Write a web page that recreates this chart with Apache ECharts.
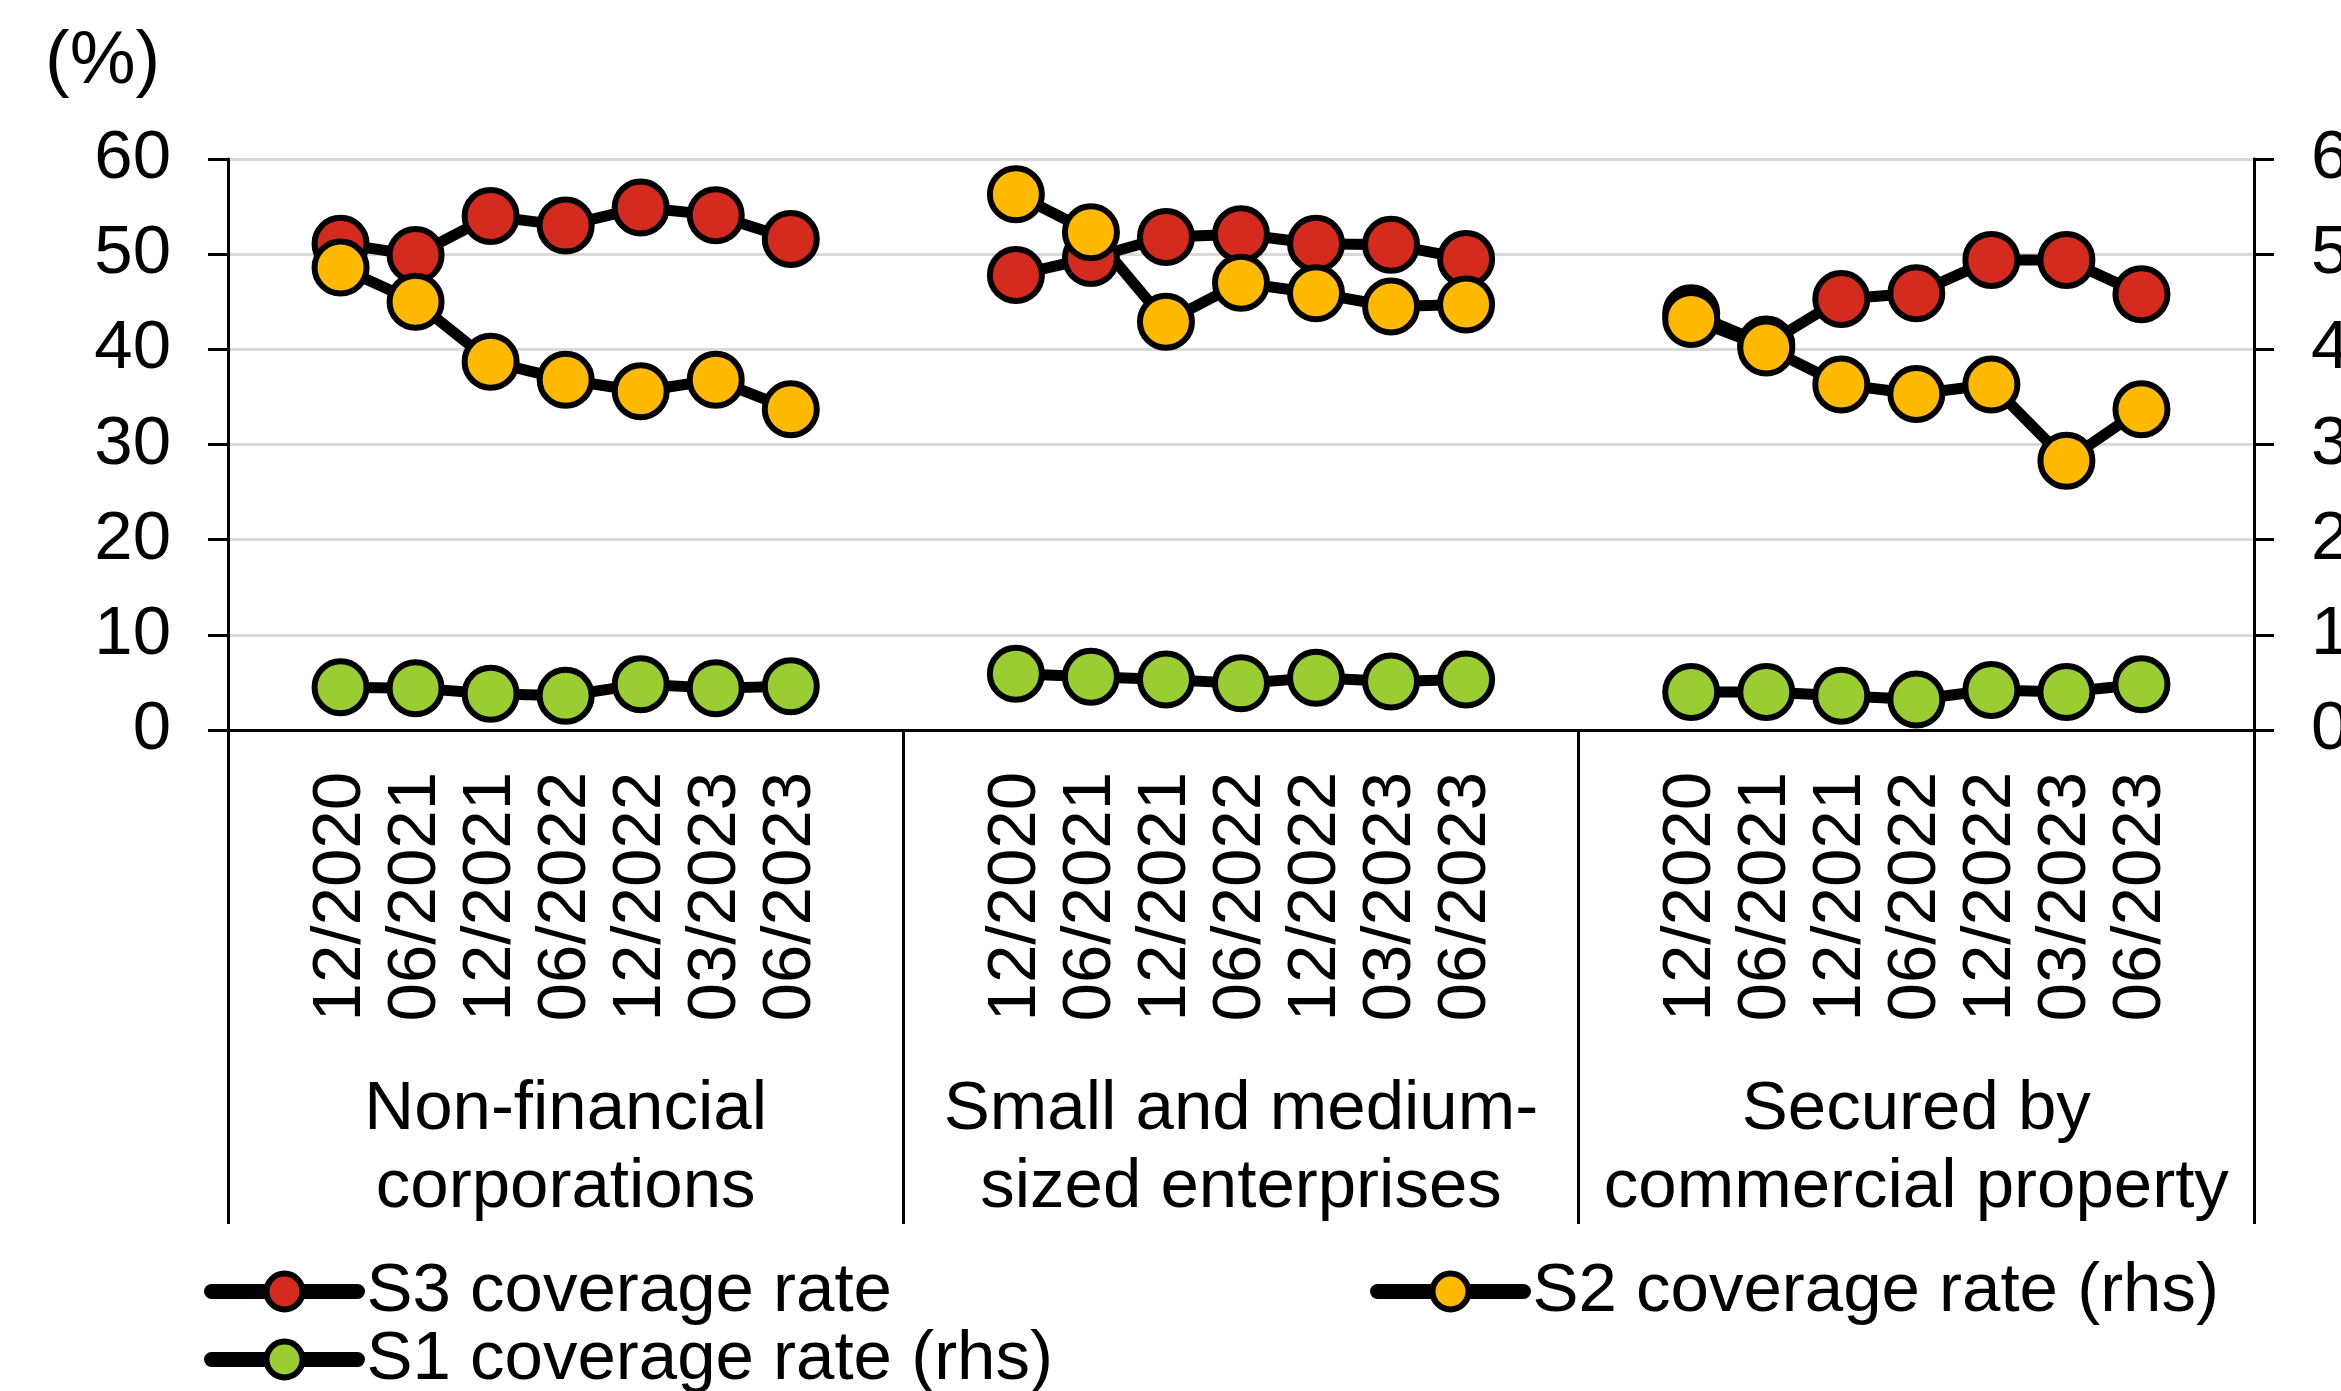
<!DOCTYPE html>
<html>
<head>
<meta charset="utf-8">
<title>Coverage rates by segment</title>
<script src="https://cdn.jsdelivr.net/npm/echarts@6/dist/echarts.min.js"></script>
<style>
  html, body { margin: 0; padding: 0; background: #fff; }
  #chart { width: 2341px; height: 1391px; }
</style>
</head>
<body>
<div id="chart"></div>
<script>
// Reporting dates shown inside each segment
const dates = ['12/2020', '06/2021', '12/2021', '06/2022', '12/2022', '03/2023', '06/2023'];

// Segment names (one block of dates per segment)
const segments = ['Non-financial\ncorporations', 'Small and medium-\nsized enterprises', 'Secured by\ncommercial property'];

// Y-axis tick values (both sides, %)
const yTicks = [0, 10, 20, 30, 40, 50, 60];

// S3 coverage rate (%), left axis
const s3Nfc = [51.1, 49.9, 54.0, 53.0, 54.9, 54.1, 51.6];
const s3Sme = [47.8, 49.6, 51.8, 52.1, 51.1, 51.0, 49.5];
const s3Cre = [43.8, 40.5, 45.3, 45.9, 49.4, 49.4, 45.8];

// S2 coverage rate (%), right axis
const s2Nfc = [48.6, 45.0, 38.7, 36.8, 35.6, 36.8, 33.7];
const s2Sme = [56.3, 52.3, 42.9, 47.0, 45.9, 44.5, 44.7];
const s2Cre = [43.2, 40.2, 36.3, 35.3, 36.3, 28.3, 33.7];

// S1 coverage rate (%), right axis
const s1Nfc = [4.5, 4.4, 3.8, 3.6, 4.8, 4.4, 4.6];
const s1Sme = [5.9, 5.6, 5.3, 4.9, 5.5, 5.1, 5.3];
const s1Cre = [4.0, 4.0, 3.6, 3.2, 4.2, 4.0, 4.8];

const FONT = 'Liberation Sans, Arial, sans-serif';
const RED = '#D52B1E';
const YELLOW = '#FFBA00';
const GREEN = '#9ACD32';

// Each segment gets an empty slot before and after its dates
function padBlock(arr, filler) { return [filler].concat(arr, [filler]); }
const categories = [].concat(padBlock(dates, ''), padBlock(dates, ''), padBlock(dates, ''));
function joinSegments(a, b, c) { return [].concat(padBlock(a, null), padBlock(b, null), padBlock(c, null)); }

const s3Data = joinSegments(s3Nfc, s3Sme, s3Cre);
const s2Data = joinSegments(s2Nfc, s2Sme, s2Cre);
const s1Data = joinSegments(s1Nfc, s1Sme, s1Cre);

function lineSeries(name, data, yIdx, fill) {
  return {
    name: name,
    type: 'line',
    xAxisIndex: 0,
    yAxisIndex: yIdx,
    data: data,
    connectNulls: false,
    symbol: 'circle',
    symbolSize: 52,
    showAllSymbol: true,
    lineStyle: { color: '#000', width: 11, join: 'round' },
    itemStyle: { color: fill, borderColor: '#000', borderWidth: 6 },
    emphasis: { disabled: true }
  };
}

function valueAxis(position) {
  return {
    type: 'value',
    position: position,
    min: yTicks[0],
    max: yTicks[yTicks.length - 1],
    interval: yTicks[1] - yTicks[0],
    axisLine: { show: true, lineStyle: { color: '#000', width: 3 } },
    axisTick: { show: true, inside: false, length: 20, lineStyle: { color: '#000', width: 3 } },
    axisLabel: { fontSize: 69, fontFamily: FONT, color: '#000', margin: 57 },
    splitLine: position === 'left'
      ? { show: true, lineStyle: { color: '#D9D9D9', width: 3 } }
      : { show: false }
  };
}

function legendAt(name, left, top) {
  return {
    data: [name],
    left: left,
    top: top,
    padding: 0,
    itemGap: 0,
    itemWidth: 146,
    itemHeight: 45,
    selectedMode: false,
    textStyle: { fontSize: 69, fontFamily: FONT, color: '#000', padding: [0, 0, 0, 4] },
    lineStyle: { color: '#000', width: 15, cap: 'round' },
    itemStyle: { borderColor: '#000', borderWidth: 6 }
  };
}

const chart = echarts.init(document.getElementById('chart'), null, { renderer: 'canvas' });

chart.setOption({
  animation: false,
  backgroundColor: '#fff',
  textStyle: { fontFamily: FONT },
  grid: { left: 228, right: 87, top: 159, height: 571, containLabel: false, outerBoundsMode: 'none' },
  xAxis: [
    {
      type: 'category',
      data: categories,
      boundaryGap: true,
      axisLine: { show: true, lineStyle: { color: '#000', width: 3 } },
      axisTick: { show: false },
      axisLabel: { interval: 0, rotate: 90, margin: 42, fontSize: 69, fontFamily: FONT, color: '#000' },
      splitLine: { show: false }
    },
    {
      type: 'category',
      data: segments,
      position: 'bottom',
      boundaryGap: true,
      axisLine: { show: false },
      axisTick: { show: true, interval: 0, length: 494, lineStyle: { color: '#000', width: 3 } },
      axisLabel: { interval: 0, margin: 341, fontSize: 69, lineHeight: 78, fontFamily: FONT, color: '#000' },
      splitLine: { show: false }
    }
  ],
  yAxis: [valueAxis('left'), valueAxis('right')],
  legend: [
    legendAt('S3 coverage rate', 204, 1257),
    legendAt('S2 coverage rate (rhs)', 1370, 1257),
    legendAt('S1 coverage rate (rhs)', 204, 1325)
  ],
  graphic: [
    {
      type: 'text',
      x: 45,
      y: 63,
      style: { text: '(%)', font: '74px ' + FONT, fill: '#000', textVerticalAlign: 'middle' }
    }
  ],
  series: [
    lineSeries('S3 coverage rate', s3Data, 0, RED),
    lineSeries('S2 coverage rate (rhs)', s2Data, 1, YELLOW),
    lineSeries('S1 coverage rate (rhs)', s1Data, 1, GREEN)
  ]
});
</script>
</body>
</html>
